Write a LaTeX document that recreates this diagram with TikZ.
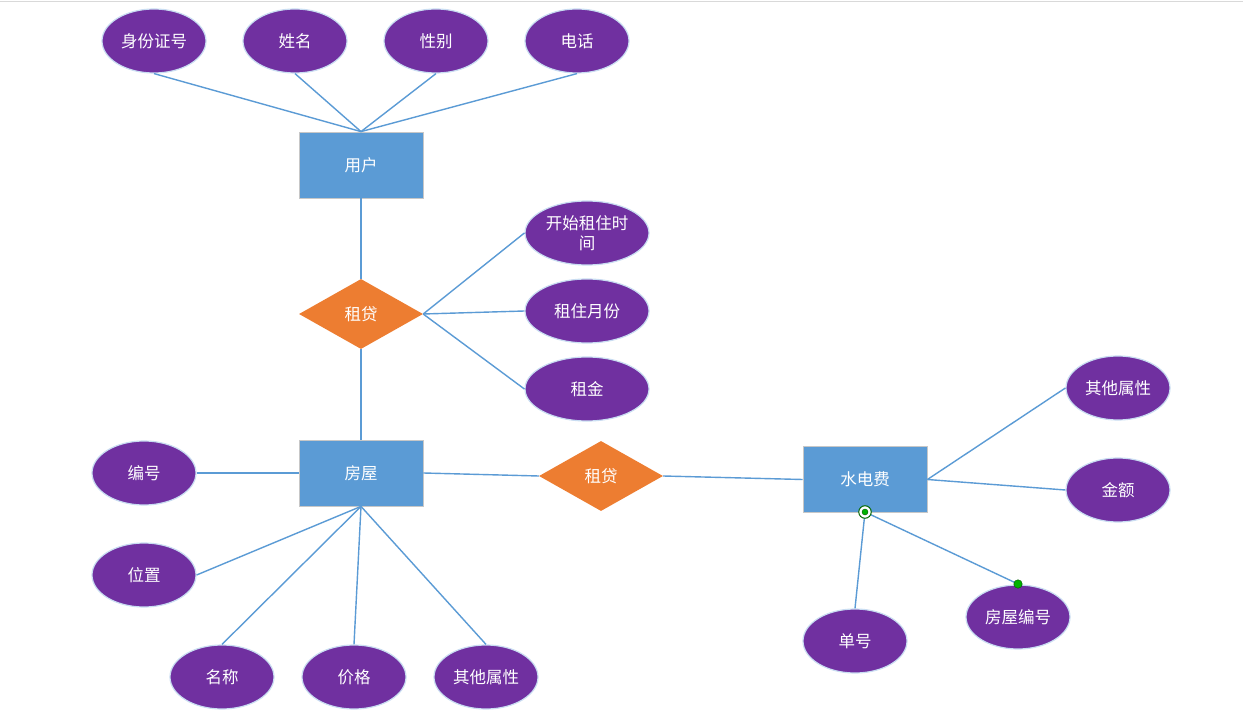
\documentclass[tikz,border=0pt]{standalone}
\usepackage{fontspec}
\newfontfamily\cjk{Noto Sans CJK SC}
\usetikzlibrary{shapes.geometric}
\definecolor{attrpurple}{HTML}{7030A0}
\definecolor{entblue}{HTML}{5B9BD5}
\definecolor{relorange}{HTML}{ED7D31}
\definecolor{linkblue}{HTML}{5B9BD5}
\definecolor{halo}{HTML}{C9DDF2}
\begin{document}
\begin{tikzpicture}[x=1pt,y=-1pt,
  lbl/.style={text=white,font=\cjk\fontsize{16.5}{20}\selectfont,align=center,inner sep=0pt},
  attr/.style={lbl,ellipse,fill=attrpurple,draw=halo,line width=1.2pt,minimum width=104pt,minimum height=64pt},
  ent/.style={lbl,rectangle,fill=entblue,draw=black!22,line width=0.8pt,minimum width=124pt,minimum height=66pt},
  rel/.style={lbl,diamond,fill=relorange,draw=none,minimum width=124pt,minimum height=70pt,aspect=1.77},
  link/.style={draw=linkblue,line width=1.4pt}]
\useasboundingbox (0,0) rectangle (1243,722);
\fill[white] (0,0) rectangle (1243,722);
\draw[black!15,line width=1pt] (0,1.5) -- (1243,1.5);
% entities
\node[ent] (user) at (361,165) {用户};
\node[ent] (house) at (361,473) {房屋};
\node[ent] (fee) at (865,479.5) {水电费};
% relations
\node[rel] (rent1) at (361,314) {租贷};
\node[rel] (rent2) at (601,476) {租贷};
% user attributes
\node[attr] (uid) at (154,41) {身份证号};
\node[attr] (uname) at (295,41) {姓名};
\node[attr] (usex) at (436,41) {性别};
\node[attr] (utel) at (577,41) {电话};
% rent attributes
\node[attr,minimum width=124pt] (rstart) at (587,233) {开始租住时\\间};
\node[attr,minimum width=124pt] (rmonth) at (587,311) {租住月份};
\node[attr,minimum width=124pt] (rmoney) at (587,389) {租金};
% house attributes
\node[attr] (hid) at (144,473) {编号};
\node[attr] (hpos) at (144,575) {位置};
\node[attr] (hname) at (222,677) {名称};
\node[attr] (hprice) at (354,677) {价格};
\node[attr] (hother) at (486,677) {其他属性};
% fee attributes
\node[attr] (fother) at (1118,388) {其他属性};
\node[attr] (famount) at (1118,490) {金额};
\node[attr] (fno) at (855,641) {单号};
\node[attr] (fhid) at (1018,617) {房屋编号};
% connectors
\coordinate (feeh) at (865,512);
\coordinate (fhidh) at (1018,584);
\draw[link] (uid.south) -- (user.north);
\draw[link] (uname.south) -- (user.north);
\draw[link] (usex.south) -- (user.north);
\draw[link] (utel.south) -- (user.north);
\draw[link] (user.south) -- (rent1.north);
\draw[link] (rent1.south) -- (house.north);
\draw[link] (rent1.east) -- (rstart.west);
\draw[link] (rent1.east) -- (rmonth.west);
\draw[link] (rent1.east) -- (rmoney.west);
\draw[link] (hid.east) -- (house.west);
\draw[link] (hpos.east) -- (house.south);
\draw[link] (hname.north) -- (house.south);
\draw[link] (hprice.north) -- (house.south);
\draw[link] (hother.north) -- (house.south);
\draw[link] (house.east) -- (rent2.west);
\draw[link] (rent2.east) -- (fee.west);
\draw[link] (fee.east) -- (fother.west);
\draw[link] (fee.east) -- (famount.west);
\draw[link] (feeh) -- (fno.north);
\draw[link] (feeh) -- (fhidh);
% selection handles
\node[circle,draw=green!40!black,fill=white,line width=1pt,minimum size=12.5pt,inner sep=0pt] (h1) at (feeh) {};
\node[circle,fill=green!70!black,draw=green!35!black,line width=0.4pt,minimum size=6pt,inner sep=0pt] (h1d) at (feeh) {};
\node[circle,fill=green!70!black,draw=green!35!black,line width=0.4pt,minimum size=8.5pt,inner sep=0pt] (h2) at (fhidh) {};
\end{tikzpicture}
\end{document}
